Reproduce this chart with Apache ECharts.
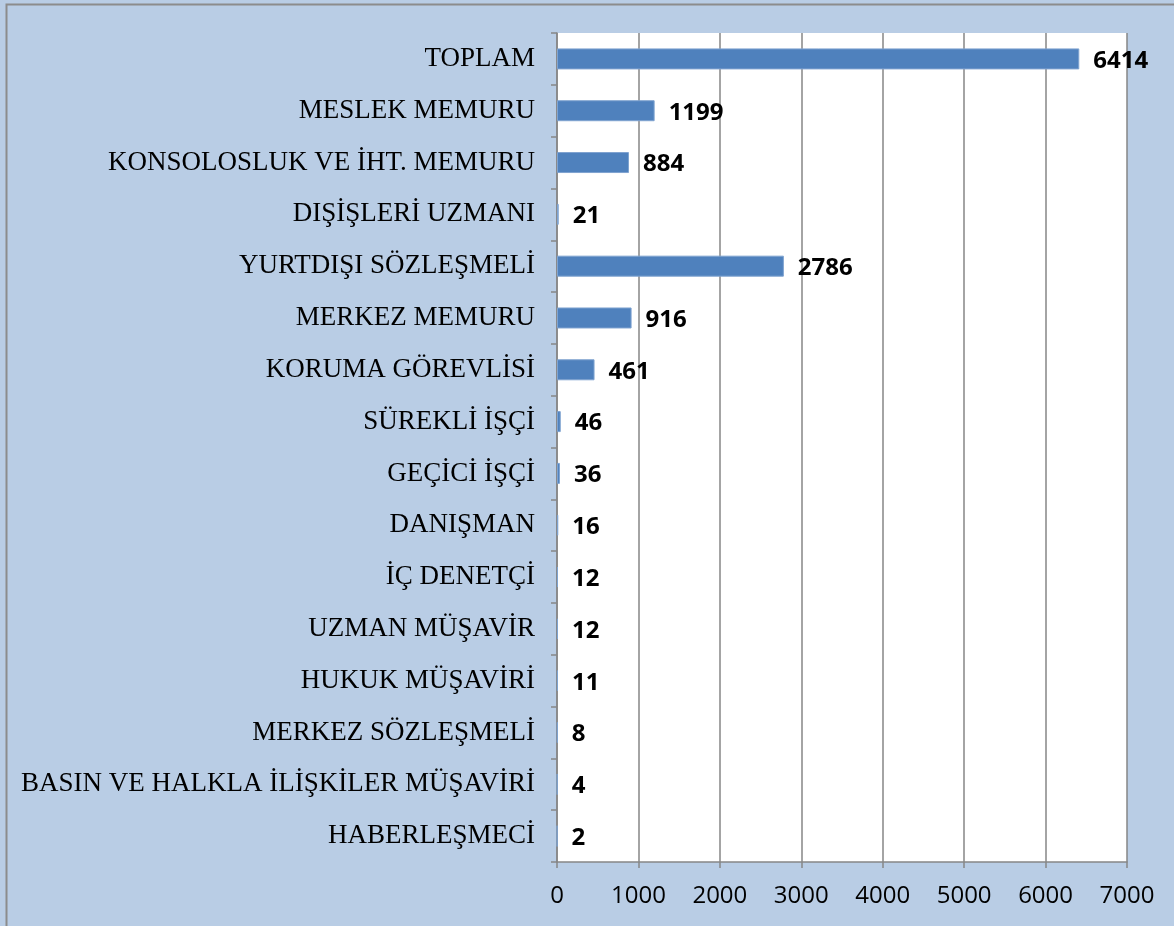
<!DOCTYPE html>
<html><head><meta charset="utf-8">
<script src="https://cdn.jsdelivr.net/npm/echarts@6/dist/echarts.min.js"></script>
<style>html,body{margin:0;padding:0;background:#B9CDE5;}#c{width:1174px;height:926px;}</style>
</head><body><div id="c"></div>
<script>
const categories = ["TOPLAM","MESLEK MEMURU","KONSOLOSLUK VE İHT. MEMURU","DIŞİŞLERİ UZMANI","YURTDIŞI SÖZLEŞMELİ","MERKEZ MEMURU","KORUMA GÖREVLİSİ","SÜREKLİ İŞÇİ","GEÇİCİ İŞÇİ","DANIŞMAN","İÇ DENETÇİ","UZMAN MÜŞAVİR","HUKUK MÜŞAVİRİ","MERKEZ SÖZLEŞMELİ","BASIN VE HALKLA İLİŞKİLER MÜŞAVİRİ","HABERLEŞMECİ"];
const values = [6414,1199,884,21,2786,916,461,46,36,16,12,12,11,8,4,2];
const xMin = 0, xMax = 7000, xStep = 1000;

const chart = echarts.init(document.getElementById('c'), null, {renderer:'canvas'});
chart.setOption({
  backgroundColor:'#B9CDE5',
  animation:false,
  graphic:[{type:'rect',shape:{x:6.5,y:4.5,width:1200,height:1000},style:{fill:'none',stroke:'#8C8C8C',lineWidth:2},z:-1}],
  grid:{left:557,right:47,top:33,bottom:64,backgroundColor:'#FFFFFF',show:true,borderWidth:0},
  xAxis:{type:'value',min:xMin,max:xMax,interval:xStep,
    axisLine:{show:true,lineStyle:{color:'#868686',width:1.5}},
    axisTick:{show:true,length:6,lineStyle:{color:'#868686',width:1.5}},
    axisLabel:{color:'#000',fontFamily:'Open Sans',fontSize:24,margin:22,formatter:v=>String(v)},
    splitLine:{show:true,lineStyle:{color:'#868686',width:1.5}}},
  yAxis:{type:'category',data:categories,inverse:true,
    axisLine:{show:true,lineStyle:{color:'#868686',width:1.5}},
    axisTick:{show:true,length:6,lineStyle:{color:'#868686',width:1.5}},
    axisLabel:{color:'#000',fontFamily:'Liberation Serif',fontSize:27,margin:22}},
  series:[{type:'bar',data:values,barWidth:21,
    itemStyle:{color:'#4F81BD',borderColor:'#7FA3D0',borderWidth:1},
    label:{show:true,position:'right',distance:14,color:'#000',fontFamily:'Open Sans',fontWeight:'bold',fontSize:24,offset:[0,2]}}]
});
</script></body></html>
